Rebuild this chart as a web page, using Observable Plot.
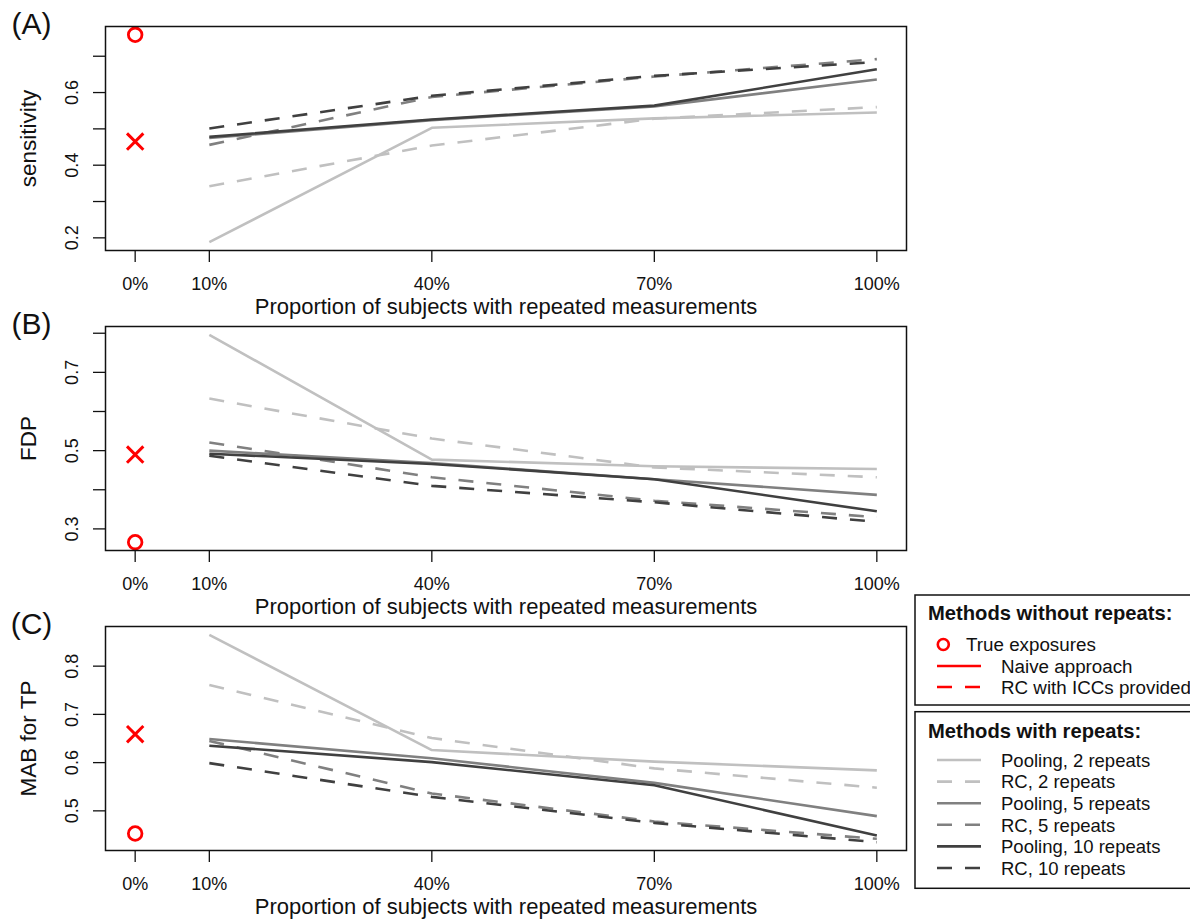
<!DOCTYPE html>
<html><head><meta charset="utf-8">
<script src="https://cdn.jsdelivr.net/npm/d3@7"></script>
<script src="https://cdn.jsdelivr.net/npm/@observablehq/plot@0.6"></script>
<style>
html,body{margin:0;padding:0;background:#fff;overflow:hidden;}
#root{position:relative;width:1190px;height:921px;font-family:"Liberation Sans",Arial,sans-serif;}
#root > svg{position:absolute;}
</style></head><body><div id="root"></div>
<script>
// ---------- data ----------
const proportions = [10, 40, 70, 100];
const xTicks = [0, 10, 40, 70, 100];
const xTitle = "Proportion of subjects with repeated measurements";
const methods = ["Pooling, 2 repeats", "RC, 2 repeats", "Pooling, 5 repeats", "RC, 5 repeats", "Pooling, 10 repeats", "RC, 10 repeats"];
const methodColors = ["#c0c0c0", "#c0c0c0", "#808080", "#808080", "#404040", "#404040"];
const methodDashed = [false, true, false, true, false, true];

const sensitivityValues = [
  [0.188, 0.503, 0.529, 0.545],
  [0.342, 0.454, 0.528, 0.560],
  [0.475, 0.524, 0.562, 0.636],
  [0.456, 0.588, 0.644, 0.692],
  [0.478, 0.526, 0.564, 0.664],
  [0.501, 0.591, 0.646, 0.684]
];
const sensitivityTrue = 0.759, sensitivityNaive = 0.465;

const fdpValues = [
  [0.796, 0.477, 0.460, 0.453],
  [0.633, 0.531, 0.457, 0.432],
  [0.500, 0.468, 0.427, 0.387],
  [0.521, 0.432, 0.372, 0.330],
  [0.492, 0.466, 0.427, 0.345],
  [0.487, 0.410, 0.368, 0.318]
];
const fdpTrue = 0.266, fdpNaive = 0.490;

const mabValues = [
  [0.865, 0.626, 0.602, 0.584],
  [0.761, 0.651, 0.588, 0.548],
  [0.649, 0.609, 0.558, 0.489],
  [0.645, 0.536, 0.478, 0.442],
  [0.635, 0.601, 0.553, 0.449],
  [0.599, 0.529, 0.475, 0.435]
];
const mabTrue = 0.453, mabNaive = 0.659;

const panelLabels = ["(A)", "(B)", "(C)"];
const yTitles = ["sensitivity", "FDP", "MAB for TP"];
const yTicksA = [0.2, 0.3, 0.4, 0.5, 0.6, 0.7], yLabelsA = [0.2, 0.4, 0.6];
const yTicksB = [0.3, 0.4, 0.5, 0.6, 0.7, 0.8], yLabelsB = [0.3, 0.5, 0.7];
const yTicksC = [0.5, 0.6, 0.7, 0.8], yLabelsC = [0.5, 0.6, 0.7, 0.8];

const legendTopTitle = "Methods without repeats:";
const legendTopItems = ["True exposures", "Naive approach", "RC with ICCs provided"];
const legendBottomTitle = "Methods with repeats:";

// ---------- drawing ----------
const FONT = '"Liberation Sans", Arial, sans-serif';
const root = document.getElementById("root");

function panel(label, ytitle, values, trueVal, naiveVal, yTicks, yLabels, top) {
  const rows = [];
  methods.forEach((m, i) => proportions.forEach((p, j) => rows.push({method: m, x: p, y: values[i][j]})));
  const ext = d3.extent([...values.flat(), trueVal, naiveVal]);
  const pad = (ext[1] - ext[0]) * 0.04;
  const chart = Plot.plot({
    width: 910, height: 320,
    marginTop: 26, marginBottom: 70, marginLeft: 105, marginRight: 4,
    style: {background: "transparent", fontFamily: FONT, color: "#111", overflow: "visible"},
    x: {domain: [-4, 104]},
    y: {domain: [ext[0] - pad, ext[1] + pad]},
    marks: [
      Plot.axisX({ticks: xTicks, tickSize: 12, tickPadding: 15, tickFormat: d => d + "%", fontSize: 18, label: null, strokeWidth: 1.3}),
      Plot.axisY({ticks: yTicks, tickSize: 12, tickFormat: () => "", label: null, strokeWidth: 1.3}),
      Plot.text(yLabels, {y: d => d, frameAnchor: "left", dx: -33, rotate: -90, text: d => d.toFixed(1), fontSize: 18, lineAnchor: "middle", textAnchor: "middle"}),
      Plot.text([ytitle], {frameAnchor: "left", dx: -77, rotate: -90, fontSize: 22.5, lineAnchor: "middle", textAnchor: "middle"}),
      Plot.text([xTitle], {frameAnchor: "bottom", dy: 56, fontSize: 22, lineAnchor: "middle", textAnchor: "middle"}),
      Plot.text([label], {frameAnchor: "top-left", dx: -74, dy: -2, fontSize: 30, lineAnchor: "middle", textAnchor: "middle"}),
      ...methods.map((m, i) => Plot.line(rows.filter(r => r.method === m), {
        x: "x", y: "y", stroke: methodColors[i], strokeWidth: 2.6,
        strokeDasharray: methodDashed[i] ? "15,13" : null, strokeLinecap: "butt"
      })),
      Plot.dot([{x: 0, y: trueVal}], {x: "x", y: "y", r: 6.8, stroke: "red", strokeWidth: 2.8, fill: "none"}),
      Plot.dot([{x: 0, y: naiveVal}], {x: "x", y: "y", r: 7.5, symbol: "times", stroke: "red", strokeWidth: 3}),
      Plot.frame({stroke: "#111", strokeWidth: 1.5})
    ]
  });
  chart.style.position = "absolute";
  chart.style.left = "0px";
  chart.style.top = top + "px";
  root.appendChild(chart);
}

panel(panelLabels[0], yTitles[0], sensitivityValues, sensitivityTrue, sensitivityNaive, yTicksA, yLabelsA, 0);
panel(panelLabels[1], yTitles[1], fdpValues, fdpTrue, fdpNaive, yTicksB, yLabelsB, 300);
panel(panelLabels[2], yTitles[2], mabValues, mabTrue, mabNaive, yTicksC, yLabelsC, 600);

// ---------- legend ----------
const svg = d3.select(root).append("svg")
  .attr("width", 1190).attr("height", 921)
  .style("left", "0px").style("top", "0px")
  .style("font-family", FONT);

svg.append("rect").attr("x", 915).attr("y", 595).attr("width", 290).attr("height", 110)
  .attr("fill", "white").attr("stroke", "#111").attr("stroke-width", 1.5);
svg.append("rect").attr("x", 915).attr("y", 711.7).attr("width", 290).attr("height", 176.6)
  .attr("fill", "white").attr("stroke", "#111").attr("stroke-width", 1.5);

svg.append("text").attr("x", 928).attr("y", 619.5).attr("font-size", 20.2).attr("font-weight", "bold")
  .attr("fill", "#111").text(legendTopTitle);
const topRowsY = [644.5, 666, 687];
svg.append("circle").attr("cx", 943.3).attr("cy", topRowsY[0]).attr("r", 5.5)
  .attr("fill", "none").attr("stroke", "red").attr("stroke-width", 2.6);
svg.append("text").attr("x", 966).attr("y", topRowsY[0] + 6.8).attr("font-size", 18.8).attr("fill", "#111").text(legendTopItems[0]);
svg.append("line").attr("x1", 937).attr("x2", 981).attr("y1", topRowsY[1]).attr("y2", topRowsY[1])
  .attr("stroke", "red").attr("stroke-width", 2.6);
svg.append("text").attr("x", 1001).attr("y", topRowsY[1] + 6.8).attr("font-size", 18.8).attr("fill", "#111").text(legendTopItems[1]);
svg.append("line").attr("x1", 937).attr("x2", 981).attr("y1", topRowsY[2]).attr("y2", topRowsY[2])
  .attr("stroke", "red").attr("stroke-width", 2.6).attr("stroke-dasharray", "15,13");
svg.append("text").attr("x", 1001).attr("y", topRowsY[2] + 6.8).attr("font-size", 18.8).attr("fill", "#111").text(legendTopItems[2]);

svg.append("text").attr("x", 928).attr("y", 737.5).attr("font-size", 20.2).attr("font-weight", "bold")
  .attr("fill", "#111").text(legendBottomTitle);
methods.forEach((m, i) => {
  const y = 760 + i * 21.6;
  svg.append("line").attr("x1", 937).attr("x2", 981).attr("y1", y).attr("y2", y)
    .attr("stroke", methodColors[i]).attr("stroke-width", 2.6)
    .attr("stroke-dasharray", methodDashed[i] ? "15,13" : null);
  svg.append("text").attr("x", 1001).attr("y", y + 6.8).attr("font-size", 18.5).attr("fill", "#111").text(m);
});
</script>
</body></html>
